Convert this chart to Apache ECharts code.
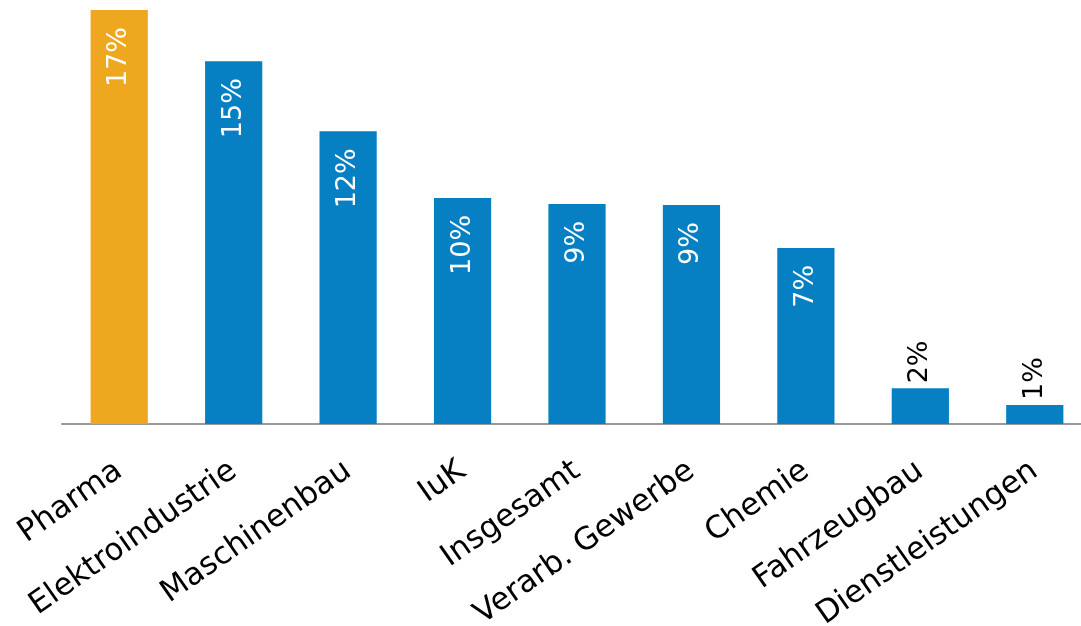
<!DOCTYPE html>
<html>
<head>
<meta charset="utf-8">
<script src="https://cdn.jsdelivr.net/npm/echarts@6/dist/echarts.min.js"></script>
<style>
  html, body { margin: 0; padding: 0; background: #fff; }
  #chart { width: 1081px; height: 626px; }
</style>
</head>
<body>
<div id="chart"></div>
<script>
var categories = ['Pharma', 'Elektroindustrie', 'Maschinenbau', 'IuK', 'Insgesamt',
  'Verarb. Gewerbe', 'Chemie', 'Fahrzeugbau', 'Dienstleistungen'];
var values = [17.4, 15.25, 12.3, 9.5, 9.25, 9.2, 7.4, 1.5, 0.8];
var valueLabels = ['17%', '15%', '12%', '10%', '9%', '9%', '7%', '2%', '1%'];

var orange = '#EEA820';
var blue = '#0780C3';

var data = values.map(function (v, i) {
  var small = v < 3;
  return {
    value: v,
    itemStyle: { color: i === 0 ? orange : blue },
    label: small ? {
      position: 'top',
      rotate: 90,
      align: 'left',
      verticalAlign: 'middle',
      distance: 5,
      color: '#000'
    } : {
      position: 'insideTop',
      rotate: 90,
      align: 'right',
      verticalAlign: 'middle',
      distance: 17,
      color: '#fff'
    }
  };
});

var option = {
  animation: false,
  grid: { left: 62, width: 1030, top: 10, bottom: 202, outerBoundsMode: 'none' },
  xAxis: {
    type: 'category',
    data: categories,
    axisLine: { lineStyle: { color: '#999', width: 2 } },
    axisTick: { show: false },
    axisLabel: {
      rotate: 35,
      interval: 0,
      margin: 44,
      color: '#000',
      fontSize: 31,
      fontFamily: 'DejaVu Sans'
    }
  },
  yAxis: {
    type: 'value',
    min: 0,
    max: 17.4,
    show: false,
    splitLine: { show: false }
  },
  series: [{
    type: 'bar',
    barWidth: '50%',
    data: data,
    label: {
      show: true,
      fontSize: 27,
      fontFamily: 'DejaVu Sans',
      formatter: function (p) { return valueLabels[p.dataIndex]; }
    }
  }]
};

var myChart = echarts.init(document.getElementById('chart'));
myChart.setOption(option);
</script>
</body>
</html>
